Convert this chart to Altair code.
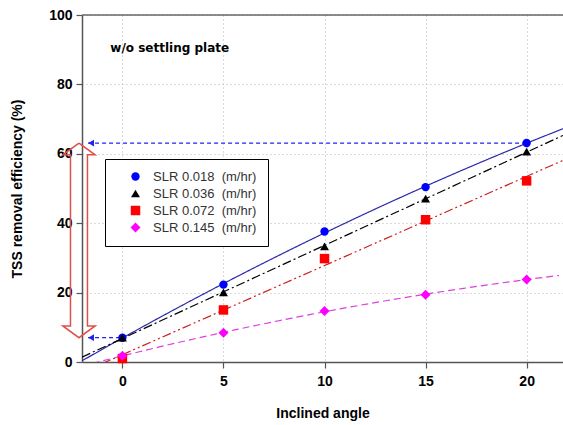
import altair as alt
import pandas as pd

# ---- data ----
angles = [0, 5, 10, 15, 20]
slr_018 = [7.0, 22.3, 37.6, 50.4, 63.1]
slr_036 = [7.0, 20.1, 33.3, 47.1, 60.6]
slr_072 = [1.0, 15.0, 29.8, 41.0, 52.2]
slr_145 = [1.8, 8.4, 14.7, 19.4, 23.8]
series_names = [
    "SLR 0.018\u00a0\u00a0(m/hr)",
    "SLR 0.036\u00a0\u00a0(m/hr)",
    "SLR 0.072\u00a0\u00a0(m/hr)",
    "SLR 0.145\u00a0\u00a0(m/hr)",
]
point_colors = ["#0000ff", "#000000", "#ff0000", "#ff00ff"]
line_colors = ["#2a2aa8", "#000000", "#cc1f1f", "#dd3fdd"]
shapes = ["circle", "triangle-up", "square", "diamond"]
marker_sizes = [70, 100, 80, 115]
dashes = [[1, 0], [9, 3, 2, 3], [9, 3, 2, 3, 2, 3], [7, 4]]
fit_methods = ["poly", "linear", "linear", "poly"]
x_ticks = [0, 5, 10, 15, 20]
y_ticks = [0, 20, 40, 60, 80, 100]
annotation = "w/o settling plate"

FONT = "Liberation Sans"
W, H = 481, 347
X_DOMAIN = [-2, 21.8]

rows = []
for name, vals in zip(series_names, [slr_018, slr_036, slr_072, slr_145]):
    for a, v in zip(angles, vals):
        rows.append({"angle": a, "tss": v, "series": name})
df = pd.DataFrame(rows)

xs = alt.Scale(domain=X_DOMAIN, nice=False, zero=False)
ys = alt.Scale(domain=[0, 100], nice=False)
X = alt.X("angle:Q", scale=xs, axis=alt.Axis(
    title="Inclined angle", values=x_ticks, format="d"))
Y = alt.Y("tss:Q", scale=ys, axis=alt.Axis(
    title="TSS removal efficiency (%)", values=y_ticks, format="d"))

layers = []

# fitted lines
for name, col, dash, meth, ext in zip(series_names, line_colors, dashes, fit_methods,
                                      [X_DOMAIN, X_DOMAIN, X_DOMAIN, [-2, 21.6]]):
    reg = alt.Chart(df).transform_filter(alt.datum.series == name)
    if meth == "poly":
        reg = reg.transform_regression("angle", "tss", method="poly", order=2, extent=ext)
    else:
        reg = reg.transform_regression("angle", "tss", method="linear", extent=ext)
    layers.append(reg.mark_line(color=col, strokeDash=dash, strokeWidth=1.2, clip=True)
                  .encode(x=X, y=Y))

# dashed blue arrows from the SLR 0.018 points to the y axis
top_v, bot_v = slr_018[-1], slr_018[0]
arrow_df = pd.DataFrame([
    {"angle": angles[-1], "tss": top_v, "g": "top"},
    {"angle": -1.7, "tss": top_v, "g": "top"},
    {"angle": angles[0], "tss": bot_v, "g": "bot"},
    {"angle": -1.7, "tss": bot_v, "g": "bot"},
])
layers.append(alt.Chart(arrow_df).mark_line(color="#2222ee", strokeDash=[4, 3], strokeWidth=1.2)
              .encode(x=X, y=Y, detail="g:N"))
head_df = pd.DataFrame({"angle": [-1.55, -1.55], "tss": [top_v, bot_v]})
layers.append(alt.Chart(head_df).mark_point(shape="triangle-left", filled=True, size=45,
                                             color="#2222ee", opacity=1)
              .encode(x=X, y=Y))

# hollow red double-headed arrow spanning the two levels
cx, hw, sw, hl = -2.15, 0.8, 0.42, 3.4
poly = [
    (cx, top_v), (cx + hw, top_v - hl), (cx + sw, top_v - hl), (cx + sw, bot_v + hl),
    (cx + hw, bot_v + hl), (cx, bot_v), (cx - hw, bot_v + hl), (cx - sw, bot_v + hl),
    (cx - sw, top_v - hl), (cx - hw, top_v - hl), (cx, top_v),
]
poly_df = pd.DataFrame([{"angle": a, "tss": b, "o": i} for i, (a, b) in enumerate(poly)])
layers.append(alt.Chart(poly_df).mark_line(color="#e0504a", strokeWidth=1.5, clip=False)
              .encode(x=X, y=Y, order="o:Q"))

# top border
layers.append(alt.Chart(pd.DataFrame({"a": [0]})).mark_rule(color="#666", strokeWidth=1.5)
              .encode(x=alt.value(0), x2=alt.value(W), y=alt.value(0)))

# annotation text
txt_df = pd.DataFrame({"angle": [-0.6], "tss": [90.5], "t": [annotation]})
layers.append(alt.Chart(txt_df).mark_text(align="left", baseline="middle", font="DejaVu Sans",
                                          fontSize=12, fontWeight="bold", color="#000")
              .encode(x=X, y=Y, text="t:N"))

# points with legend
legend = alt.Legend(title=None, orient="none", legendX=23, legendY=144,
                    fillColor="white", strokeColor="#000", padding=11,
                    labelFont=FONT, labelFontSize=13, labelColor="#333",
                    symbolSize=85, rowPadding=3, labelOffset=11, symbolOffset=13,
                    symbolStrokeWidth=0)
layers.append(alt.Chart(df).mark_point(filled=True, opacity=1).encode(
    x=X, y=Y,
    color=alt.Color("series:N", scale=alt.Scale(domain=series_names, range=point_colors),
                    legend=legend),
    shape=alt.Shape("series:N", scale=alt.Scale(domain=series_names, range=shapes),
                    legend=legend),
    size=alt.Size("series:N", scale=alt.Scale(domain=series_names, range=marker_sizes),
                  legend=None),
))

chart = alt.layer(*layers).properties(
    width=W, height=H, autosize="none",
    padding={"left": 82, "top": 15, "right": 0, "bottom": 63},
).configure_view(stroke=None).configure_axis(
    labelFont=FONT, labelFontSize=14, labelFontWeight="bold", labelColor="#000",
    titleFont=FONT, titleFontSize=14, titleFontWeight="bold", titleColor="#000",
    domainColor="#555", domainWidth=1.5, tickColor="#555", tickSize=6, tickWidth=1.2,
    gridColor="#b5b5b5", gridDash=[1, 3], gridWidth=1,
).configure_axisX(labelPadding=6, titlePadding=18).configure_axisY(
    labelPadding=4, titlePadding=24)

chart.save("out.html", embed_options={"renderer": "svg", "actions": False})
